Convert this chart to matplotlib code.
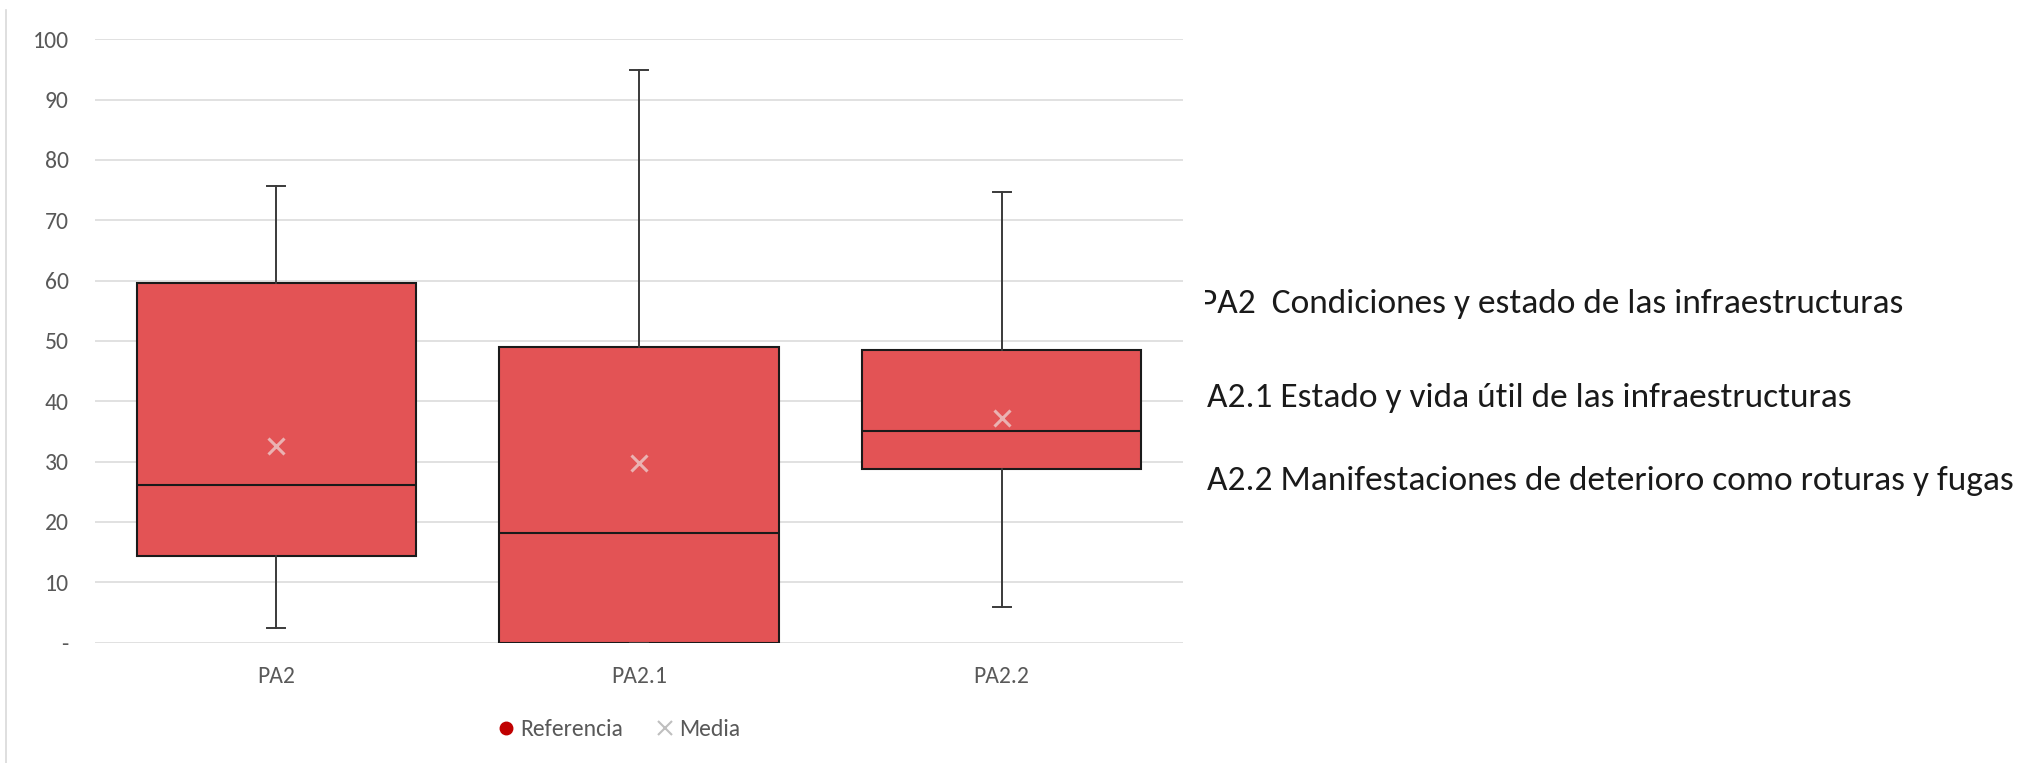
import matplotlib
matplotlib.use('Agg')
import matplotlib.pyplot as plt
from matplotlib import font_manager
from matplotlib.lines import Line2D

# datos
categories = ['PA2', 'PA2.1', 'PA2.2']
whisker_low = [2.4, 0.0, 5.9]
q1 = [14.3, 0.0, 28.7]
median = [26.1, 18.2, 35.0]
q3 = [59.6, 49.0, 48.5]
whisker_high = [75.7, 94.9, 74.7]
mean = [32.6, 29.7, 37.2]

y_ticks = [0, 10, 20, 30, 40, 50, 60, 70, 80, 90, 100]
y_tick_labels = ['-', '10', '20', '30', '40', '50', '60', '70', '80', '90', '100']

descriptions = [
    'PA2  Condiciones y estado de las infraestructuras',
    'A2.1 Estado y vida útil de las infraestructuras',
    'A2.2 Manifestaciones de deterioro como roturas y fugas',
]

W, H = 2024, 763


def pick_font(names):
    available = {f.name for f in font_manager.fontManager.ttflist}
    for n in names:
        if n in available:
            return n
    return 'DejaVu Sans'


axis_font = pick_font(['Carlito', 'Liberation Sans Narrow', 'Lato', 'Open Sans'])
text_font = axis_font
plt.rcParams['font.family'] = [axis_font, 'DejaVu Sans']

GREY = '#595959'
BOX = '#E35355'

fig = plt.figure(figsize=(W / 100, H / 100), dpi=100)
fig.patch.set_facecolor('white')

# área del gráfico en píxeles
x0, x1 = 95, 1183
y_top, y_bot = 39.3, 642.5
ax = fig.add_axes([x0 / W, 1 - y_bot / H, (x1 - x0) / W, (y_bot - y_top) / H])

stats = []
for i, c in enumerate(categories):
    stats.append(dict(label=c, whislo=whisker_low[i], q1=q1[i], med=median[i],
                      q3=q3[i], whishi=whisker_high[i], mean=mean[i], fliers=[]))

ax.bxp(stats, positions=range(len(categories)), widths=0.77, patch_artist=True,
       showmeans=True, capwidths=0.05,
       boxprops=dict(facecolor=BOX, edgecolor='#1a1a1a', linewidth=1.5),
       medianprops=dict(color='#1a1a1a', linewidth=1.5),
       whiskerprops=dict(color='#3a3a3a', linewidth=1.4),
       capprops=dict(color='#3a3a3a', linewidth=1.4),
       meanprops=dict(marker='x', markeredgecolor='#EAB2B2', markersize=12,
                      markeredgewidth=2.2, linestyle='none'))

ax.set_xlim(-0.5, 2.5)
ax.set_ylim(0, 100)
ax.set_yticks(y_ticks)
ax.set_yticklabels(y_tick_labels)
ax.set_xticks(range(len(categories)))
ax.set_xticklabels(categories)
ax.tick_params(axis='y', length=0, pad=19, labelsize=17, labelcolor=GREY)
ax.tick_params(axis='x', length=0, pad=17, labelsize=17, labelcolor=GREY)
ax.yaxis.grid(True, color='#D9D9D9', linewidth=1.1)
ax.set_axisbelow(True)
for s in ax.spines.values():
    s.set_visible(False)

# leyenda
handles = [
    Line2D([], [], marker='o', color='none', markerfacecolor='#C00000',
           markeredgecolor='#C00000', markersize=9, label='Referencia'),
    Line2D([], [], marker='x', color='none', markeredgecolor='#BFBFBF',
           markersize=10, markeredgewidth=1.5, label='Media'),
]
leg = fig.legend(handles=handles, loc='center', bbox_to_anchor=(619 / W, 1 - 730 / H),
                 ncol=2, frameon=False, fontsize=17, handlelength=0.7,
                 handletextpad=0.25, columnspacing=1.4)
for t in leg.get_texts():
    t.set_color(GREY)

# borde izquierdo del área del gráfico
fig.add_artist(Line2D([6 / W, 6 / W], [0, 1 - 10 / H], transform=fig.transFigure,
                      color='#D9D9D9', linewidth=1.2))

# textos de la derecha (recortados a la izquierda como en el original)
clip_x = 1205
ax_txt = fig.add_axes([clip_x / W, 0, 1 - clip_x / W, 1])
ax_txt.axis('off')
starts = [1199, 1207, 1207]
baselines = [313, 407, 490]
texts = []
for s, b, d in zip(starts, baselines, descriptions):
    t = fig.text(s / W, 1 - b / H, d, fontsize=22, color='#1a1a1a',
                 family=[text_font, 'DejaVu Sans'], va='baseline', ha='left')
    t.set_clip_on(True)
    t.set_clip_box(ax_txt.bbox)
    texts.append(t)

# ajustar el tamaño para que la línea más larga ocupe lo mismo que en el original
renderer = fig.canvas.get_renderer()
w3 = texts[2].get_window_extent(renderer).width
fs = 22 * (2015 - 1207) / w3
for t in texts:
    t.set_fontsize(fs)

fig.savefig('out.png', dpi=100, facecolor='white')
print(axis_font, fs)
